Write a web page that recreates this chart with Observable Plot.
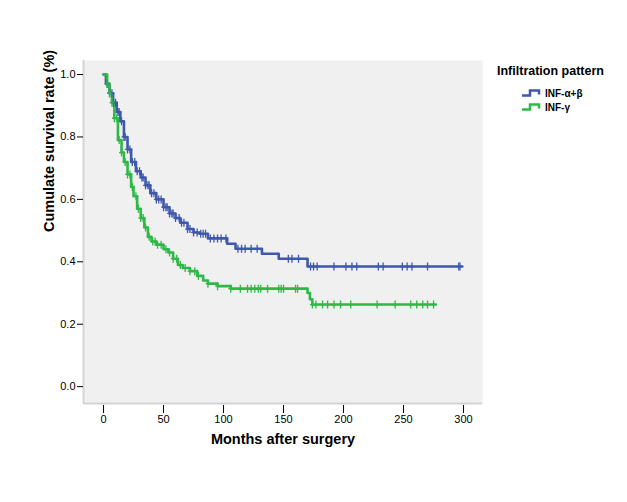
<!DOCTYPE html>
<html><head><meta charset="utf-8">
<script src="https://cdn.jsdelivr.net/npm/d3@7"></script>
<script src="https://cdn.jsdelivr.net/npm/@observablehq/plot@0.6"></script>
<style>
body{margin:0;background:#fff;font-family:"Liberation Sans",Arial,sans-serif;}
#wrap{position:relative;width:627px;height:502px;}
#legend{position:absolute;left:497px;top:64px;font-family:"Liberation Sans",Arial,sans-serif;}
#legend .t{font-weight:bold;font-size:12.5px;color:#000;margin-bottom:8px;}
#legend .i{display:flex;align-items:center;margin-left:24px;height:14px;font-weight:bold;font-size:10px;}
#legend svg{margin-right:4px;}
</style></head>
<body><div id="wrap"><div id="chart"></div><div id="legend"></div></div>
<script>
const seriesNames = ["INF-α+β", "INF-γ"];
const seriesColors = ["#3e58ac", "#2eb848"];
const legendTitle = "Infiltration pattern";
const xLabel = "Months after surgery";
const yLabel = "Cumulate survival rate (%)";
const xTicks = [0, 50, 100, 150, 200, 250, 300];
const yTicks = [0, 0.2, 0.4, 0.6, 0.8, 1.0];

// Kaplan-Meier step curves (time in months, survival)
const blueTimes = [0,2,5,8,11,14,17,20,23,27,31,35,39,44,50,55,60,64,70,75,80,87,103,110,132,146,170,299];
const blueSurv  = [1.0,0.97,0.94,0.91,0.88,0.85,0.80,0.76,0.72,0.69,0.67,0.645,0.62,0.60,0.575,0.555,0.54,0.525,0.505,0.494,0.49,0.475,0.458,0.442,0.426,0.41,0.385,0.385];
const greenTimes = [0,3,5,7,9,12,15,17,20,23,25,28,31,34,37,40,44,50,54,58,62,66,72,78,83,87,95,106,170,172,174,277];
const greenSurv  = [1.0,0.97,0.94,0.91,0.86,0.79,0.75,0.72,0.68,0.64,0.61,0.57,0.54,0.51,0.48,0.465,0.455,0.44,0.43,0.41,0.39,0.38,0.37,0.355,0.34,0.33,0.322,0.314,0.30,0.28,0.263,0.263];

// censored observation times
const blueCensor = [3,5,7,8,10,12,13,15,17,18,20,22,24,26,28,30,32,33,35,37,38,40,42,44,46,48,50,52,53,55,57,58,60,63,65,67,70,72,75,78,81,83,85,89,92,95,98,102,112,115,118,123,128,154,157,162.5,172.5,175,178,192,202,207,211,229,233,249,253,257,270,296,297];
const greenCensor = [3,5,7,9,11,13,15,18,20,22,24,27,29,31,33,35,38,41,43,45,48,52,55,58,61,64,68,72,76,79,87,95,106,114,120,123,126,129,131,136.7,146,148,150,160,161.7,174,177,182.5,186.7,192,197.5,206,228,243,256,261,266,270,275];

const curve = [];
blueTimes.forEach((t,i)=>curve.push({t, s: blueSurv[i], g: seriesNames[0]}));
greenTimes.forEach((t,i)=>curve.push({t, s: greenSurv[i], g: seriesNames[1]}));

function stepAt(times, surv, t){ let v = surv[0]; for (let i=0;i<times.length;i++){ if (times[i] <= t) v = surv[i]; } return v; }
const censors = [];
blueCensor.forEach(t=>censors.push({t, s: stepAt(blueTimes, blueSurv, t), g: seriesNames[0]}));
greenCensor.forEach(t=>censors.push({t, s: stepAt(greenTimes, greenSurv, t), g: seriesNames[1]}));

const plusSymbol = { draw(ctx, size){ const r = Math.sqrt(size/Math.PI); ctx.moveTo(0,-r); ctx.lineTo(0,r); ctx.moveTo(-r*0.6,0); ctx.lineTo(r*0.6,0); } };

const font = '"Liberation Sans", Arial, sans-serif';
const chart = Plot.plot({
  width: 627, height: 502,
  marginLeft: 83, marginRight: 145, marginTop: 60, marginBottom: 99,
  style: {fontFamily: font, fontSize: "11px", background: "#fff", color: "#000"},
  x: {domain: [-16.7, 315.8], ticks: xTicks, label: null},
  y: {domain: [-0.054, 1.045], ticks: yTicks, label: null, tickFormat: d3.format(".1f")},
  color: {domain: seriesNames, range: seriesColors},
  marks: [
    Plot.frame({fill: "#f0f0f0", stroke: null}),
    Plot.ruleX([-16.7], {stroke: "#d4d4d4", strokeWidth: 2}),
    Plot.ruleY([-0.054], {stroke: "#d4d4d4", strokeWidth: 2}),
    Plot.axisY({ticks: yTicks, tickSize: 6, tickPadding: 2, tickFormat: d3.format(".1f"), label: null, stroke: "#000"}),
    Plot.axisX({ticks: xTicks, tickSize: 8, tickPadding: 2, label: null, dy: 2}),
    Plot.line(curve, {x: "t", y: "s", z: "g", stroke: "g", curve: "step-after", strokeWidth: 2.6}),
    Plot.dot(censors, {x: "t", y: "s", stroke: "g", symbol: plusSymbol, r: 4, strokeWidth: 1.3}),
    Plot.text([xLabel], {frameAnchor: "bottom", dy: 40, fontWeight: "bold", fontSize: 14.5, fill: "#000"}),
    Plot.text([yLabel], {frameAnchor: "left", dx: -34, rotate: -90, fontWeight: "bold", fontSize: 14.5, fill: "#000"})
  ]
});
document.getElementById("chart").appendChild(chart);

const lg = document.getElementById("legend");
let html = `<div class="t">${legendTitle}</div>`;
seriesNames.forEach((n,i)=>{
  html += `<div class="i"><svg width="20" height="8"><path d="M1,6.5H9V1.5H18V5.5" fill="none" stroke="${seriesColors[i]}" stroke-width="2.5"/></svg>${n}</div>`;
});
lg.innerHTML = html;
</script></body></html>
